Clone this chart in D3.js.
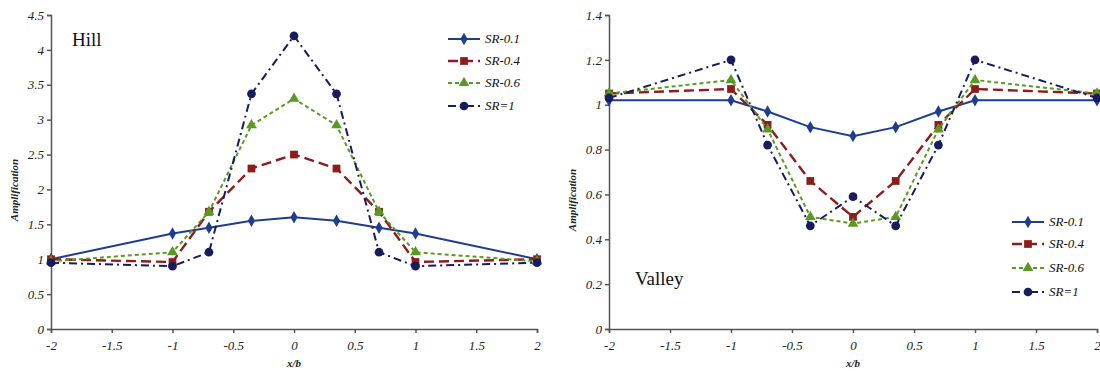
<!DOCTYPE html>
<html><head><meta charset="utf-8">
<script src="https://cdn.jsdelivr.net/npm/d3@7"></script>
<style>
body{margin:0;background:#fff;}
svg{display:block;}
</style></head>
<body><svg id="c" width="1100" height="371"></svg>
<script>
const xPositions = [-2, -1, -0.7, -0.35, 0, 0.35, 0.7, 1, 2];
const seriesNames = ["SR=0.1", "SR=0.4", "SR=0.6", "SR=1"];
const legendLabels = ["SR-0.1", "SR-0.4", "SR-0.6", "SR=1"];
const hill01 = [1.0, 1.37, 1.45, 1.55, 1.6, 1.55, 1.45, 1.37, 1.0];
const hill04 = [1.0, 0.96, 1.68, 2.3, 2.5, 2.3, 1.68, 0.96, 1.0];
const hill06 = [0.97, 1.1, 1.68, 2.92, 3.3, 2.92, 1.68, 1.1, 0.97];
const hill10 = [0.95, 0.9, 1.1, 3.37, 4.2, 3.37, 1.1, 0.9, 0.95];
const valley01 = [1.02, 1.02, 0.97, 0.9, 0.86, 0.9, 0.97, 1.02, 1.02];
const valley04 = [1.05, 1.07, 0.91, 0.66, 0.5, 0.66, 0.91, 1.07, 1.05];
const valley06 = [1.05, 1.11, 0.89, 0.5, 0.47, 0.5, 0.89, 1.11, 1.05];
const valley10 = [1.03, 1.2, 0.82, 0.46, 0.59, 0.46, 0.82, 1.2, 1.03];
const xTicks = [-2, -1.5, -1, -0.5, 0, 0.5, 1, 1.5, 2];
const xTickLabels = ["-2", "-1.5", "-1", "-0.5", "0", "0.5", "1", "1.5", "2"];
const hillYTicks = [0, 0.5, 1, 1.5, 2, 2.5, 3, 3.5, 4, 4.5];
const hillYTickLabels = ["0", "0.5", "1", "1.5", "2", "2.5", "3", "3.5", "4", "4.5"];
const valleyYTicks = [0, 0.2, 0.4, 0.6, 0.8, 1, 1.2, 1.4];
const valleyYTickLabels = ["0", "0.2", "0.4", "0.6", "0.8", "1", "1.2", "1.4"];

const FONT = "'Liberation Serif', 'Times New Roman', 'DejaVu Serif', serif";
const styles = [
  {color:"#1f3d8f", dash:null, width:2, sym:d3.symbolDiamond, size:45},
  {color:"#8e1c1c", dash:"10,5", width:2.4, sym:d3.symbolSquare, size:60},
  {color:"#5a9a22", dash:"4,3", width:2, sym:d3.symbolTriangle, size:50},
  {color:"#161c5e", dash:"8,4,2,4", width:2, sym:d3.symbolCircle, size:60}
];

const svg = d3.select("#c");

function panel(opts){
  const g = svg.append("g");
  const x = d3.scaleLinear().domain([-2,2]).range([opts.x0, opts.x1]);
  const y = d3.scaleLinear().domain([0, opts.ymax]).range([329, 15]);
  const xa = g.append("g").attr("transform","translate(0,329)")
    .call(d3.axisBottom(x).tickValues(xTicks).tickFormat((d,i)=>opts.xtl[i]).tickSizeOuter(0).tickSize(4));
  const ya = g.append("g").attr("transform",`translate(${opts.x0},0)`)
    .call(d3.axisLeft(y).tickValues(opts.yt).tickFormat((d,i)=>opts.ytl[i]).tickSizeOuter(0).tickSize(4));
  [xa, ya].forEach(a=>{
    a.attr("font-family", FONT);
    a.selectAll("path,line").attr("stroke","#555").attr("stroke-width",1.5);
    a.selectAll("text").attr("font-size",13).attr("font-style","italic").attr("fill","#222").attr("font-family", FONT);
  });
  xa.selectAll("text").attr("dy","1.1em");
  const line = d3.line().x((d,i)=>x(xPositions[i])).y(d=>y(d));
  opts.series.forEach((vals, si)=>{
    const s = styles[si];
    g.append("path").datum(vals).attr("d", line).attr("fill","none")
      .attr("stroke", s.color).attr("stroke-width", s.width)
      .attr("stroke-dasharray", s.dash);
    g.selectAll(null).data(vals).enter().append("path")
      .attr("d", d3.symbol().type(s.sym).size(s.size))
      .attr("transform",(d,i)=>`translate(${x(xPositions[i])},${y(d)})`)
      .attr("fill", s.color);
  });
  opts.legY.forEach((ly, i)=>{
    const s = styles[i];
    g.append("line").attr("x1", opts.legX).attr("x2", opts.legX+32).attr("y1", ly).attr("y2", ly)
      .attr("stroke", s.color).attr("stroke-width", s.width).attr("stroke-dasharray", s.dash);
    g.append("path").attr("d", d3.symbol().type(s.sym).size(s.size))
      .attr("transform",`translate(${opts.legX+16},${ly})`).attr("fill", s.color);
    g.append("text").attr("x", opts.legX+37).attr("y", ly+4).text(legendLabels[i])
      .attr("font-family", FONT).attr("font-size",13).attr("font-style","italic").attr("fill","#111");
  });
  g.append("text").attr("x", opts.labelX).attr("y", opts.labelY).text(opts.label)
    .attr("font-family", FONT).attr("font-size",19).attr("fill","#111");
  g.append("text").attr("transform",`translate(${opts.x0-33},${opts.ytY}) rotate(-90)`)
    .attr("text-anchor","middle").text("Amplification")
    .attr("font-family", FONT).attr("font-size",11).attr("font-style","italic").attr("font-weight","bold").attr("fill","#222");
  g.append("text").attr("x", x(0)).attr("y", 367).attr("text-anchor","middle").text("x/b")
    .attr("font-family", FONT).attr("font-size",11).attr("font-style","italic").attr("font-weight","bold").attr("fill","#222");
}

panel({x0:51, x1:537, ymax:4.5, yt:hillYTicks, ytl:hillYTickLabels, xtl:xTickLabels,
  series:[hill01, hill04, hill06, hill10], legX:448, legY:[39,61,83,106],
  label:"Hill", labelX:72, labelY:46, ytY:190});
panel({x0:609, x1:1097, ymax:1.4, yt:valleyYTicks, ytl:valleyYTickLabels, xtl:xTickLabels,
  series:[valley01, valley04, valley06, valley10], legX:1012, legY:[222,244,268,292],
  label:"Valley", labelX:635, labelY:285, ytY:200});
</script></body></html>
